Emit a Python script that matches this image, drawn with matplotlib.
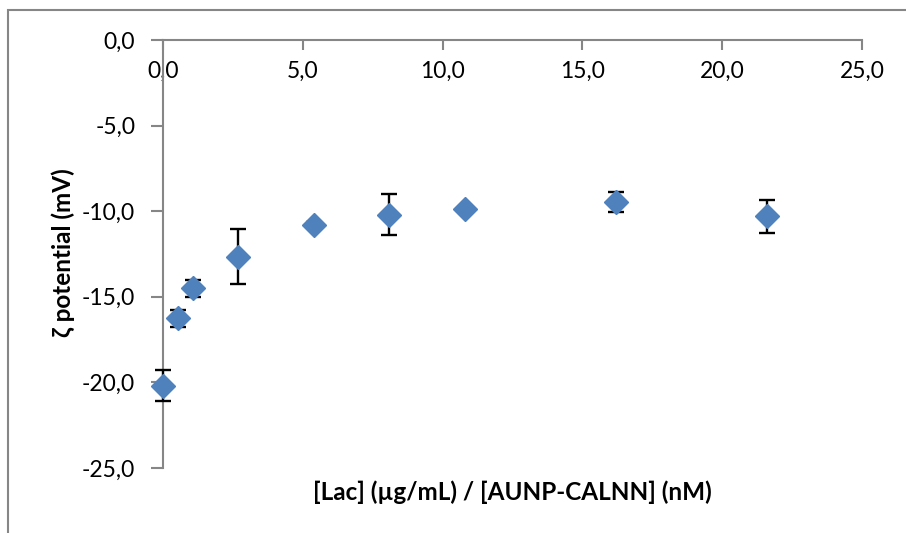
import matplotlib
matplotlib.use("Agg")
import matplotlib.pyplot as plt
from matplotlib.ticker import FuncFormatter, MultipleLocator
from matplotlib.patches import Rectangle

# Data
lac_ratio = [0.0, 0.54, 1.08, 2.7, 5.4, 8.1, 10.8, 16.2, 21.6]
zeta = [-20.2, -16.25, -14.5, -12.65, -10.8, -10.2, -9.9, -9.45, -10.3]
zeta_err = [0.9, 0.5, 0.5, 1.6, 0.15, 1.2, 0.15, 0.58, 0.95]

plt.rcParams['font.family'] = ['Lato', 'DejaVu Sans']

fig = plt.figure(figsize=(9.06, 5.33), dpi=100)
ax = fig.add_axes([0.1799, 0.1220, 0.7715, 0.8030])

bars = ax.errorbar(lac_ratio, zeta, yerr=zeta_err, fmt='D', color='#4F81BD',
                   markersize=12.5, ecolor='black', elinewidth=1.7, capsize=6,
                   capthick=1.7, zorder=3)
for artist in bars.lines[0:1] + bars.lines[1] + bars.lines[2]:
    if artist is not None:
        artist.set_clip_on(False)

ax.set_xlim(0, 25)
ax.set_ylim(-25, 0)
ax.xaxis.set_major_locator(MultipleLocator(5))
ax.yaxis.set_major_locator(MultipleLocator(5))
comma = FuncFormatter(lambda v, p: f"{v:.1f}".replace('.', ','))
ax.xaxis.set_major_formatter(comma)
ax.yaxis.set_major_formatter(comma)

ax.spines['top'].set_visible(False)
ax.spines['right'].set_visible(False)
ax.spines['bottom'].set_position(('data', 0))
for s in ('left', 'bottom'):
    ax.spines[s].set_color('#868686')
    ax.spines[s].set_linewidth(1.5)
ax.tick_params(axis='both', colors='#868686', labelcolor='black',
               labelsize=16.5, width=1.5)
ax.tick_params(axis='x', direction='out', length=7, pad=8)
ax.tick_params(axis='y', direction='out', length=9, pad=11)

ax.text(0.5, -0.056, '[Lac] (µg/mL) / [AUNP-CALNN] (nM)', transform=ax.transAxes,
        ha='center', va='center', fontsize=17.5, fontweight='bold')
fig.text(63 / 906, 1 - 253 / 533, 'ζ potential (mV)', rotation=90,
         ha='center', va='center', fontsize=17.5, fontweight='bold')

# chart area border (cropped at right and bottom)
fig.patches.append(Rectangle((8 / 906, -0.1), 1.2, 1.1 - 10 / 533,
                             transform=fig.transFigure, fill=False,
                             edgecolor='#868686', linewidth=1.5))

fig.savefig('out.png', dpi=100)
